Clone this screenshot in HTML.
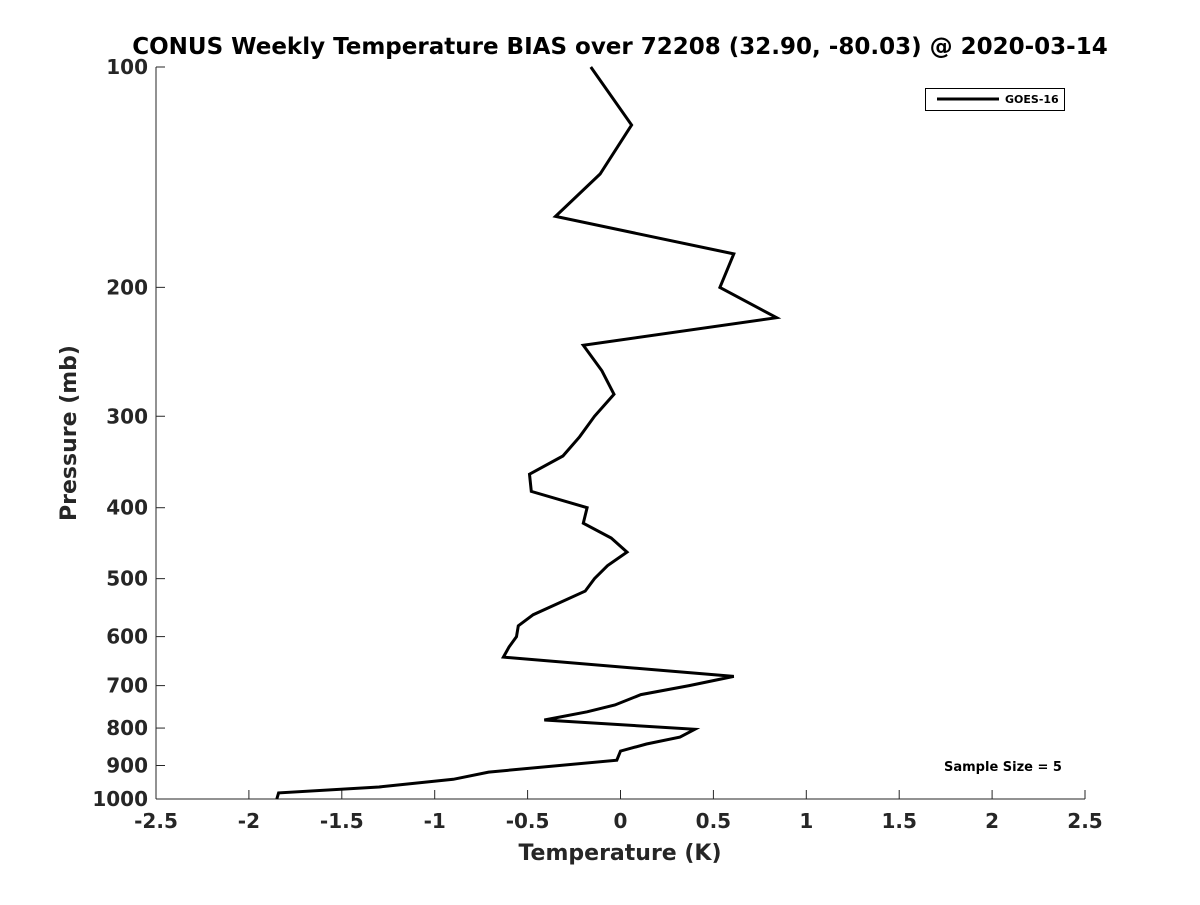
<!DOCTYPE html>
<html><head><meta charset="utf-8"><style>
html,body{margin:0;padding:0;background:#fff;}
svg text{font-family:"DejaVu Sans","Liberation Sans",sans-serif;font-weight:bold;}
</style></head><body>
<svg id="chart" width="1200" height="900">
<text x="620" y="54" text-anchor="middle" font-size="23" fill="#000">CONUS Weekly Temperature BIAS over 72208 (32.90, -80.03) @ 2020-03-14</text>
<g id="axes"></g>
<g id="series"></g>
<g>
<rect x="925.5" y="88.5" width="139" height="22" fill="#fff" stroke="#000" stroke-width="1"/>
<line x1="937" y1="99" x2="999" y2="99" stroke="#000" stroke-width="3"/>
<text x="1005" y="103" font-size="11" fill="#000">GOES-16</text>
</g>
<text x="1003" y="771" text-anchor="middle" font-size="13" fill="#000">Sample Size = 5</text>
<text x="620" y="860" text-anchor="middle" font-size="22" fill="#262626">Temperature (K)</text>
<text transform="translate(76,433) rotate(-90)" text-anchor="middle" font-size="22" fill="#262626">Pressure (mb)</text>
</svg>
<script>
const pressures=[100,120,140,160,180,200,220,240,260,280,300,320,340,360,380,400,420,440,460,480,500,520,560,580,600,620,640,680,700,720,744,760,780,803,823,841,860,885,919,940,963,981,1000];
const biasValues=[-0.16,0.06,-0.11,-0.35,0.61,0.535,0.84,-0.2,-0.1,-0.035,-0.14,-0.22,-0.31,-0.49,-0.48,-0.18,-0.2,-0.05,0.035,-0.07,-0.14,-0.19,-0.47,-0.55,-0.56,-0.6,-0.63,0.61,0.37,0.11,-0.03,-0.18,-0.41,0.4,0.32,0.14,0,-0.02,-0.71,-0.9,-1.3,-1.84,-1.85];
const xTicks=[-2.5,-2,-1.5,-1,-0.5,0,0.5,1,1.5,2,2.5];
const yTicks=[100,200,300,400,500,600,700,800,900,1000];
const X0=156,X1=1085,Y0=67,Y1=799;
const xs=v=>X0+(v+2.5)/5*(X1-X0);
const ys=p=>Y0+Math.log10(p/100)*(Y1-Y0);
const NS="http://www.w3.org/2000/svg";
const ax=document.getElementById('axes');
function mk(tag,attrs,parent){const e=document.createElementNS(NS,tag);for(const k in attrs)e.setAttribute(k,attrs[k]);parent.appendChild(e);return e;}
const yl=mk('line',{x1:X0,y1:Y0,x2:X0,y2:Y1,stroke:'#262626','stroke-width':1},ax);


const xl=mk('line',{x1:X0,y1:Y1,x2:X1,y2:Y1,stroke:'#262626','stroke-width':1},ax);


xTicks.forEach(t=>{const x=xs(t);
mk('line',{x1:x,y1:Y1,x2:x,y2:Y1-9,stroke:'#262626'},ax);
const tx=mk('text',{x:x,y:Y1+29,'text-anchor':'middle','font-size':20,fill:'#262626'},ax);tx.textContent=String(t);

});
yTicks.forEach(t=>{const y=ys(t);
mk('line',{x1:X0,y1:y,x2:X0+9,y2:y,stroke:'#262626'},ax);
const tx=mk('text',{x:X0-8,y:y+7,'text-anchor':'end','font-size':20,fill:'#262626'},ax);tx.textContent=String(t);

});
const pts=pressures.map((p,i)=>xs(biasValues[i]).toFixed(1)+','+ys(p).toFixed(1)).join(' ');
const pl=mk('polyline',{points:pts,fill:'none',stroke:'#000','stroke-width':3,'stroke-linejoin':'miter'},document.getElementById('series'));


</script>
</body></html>
